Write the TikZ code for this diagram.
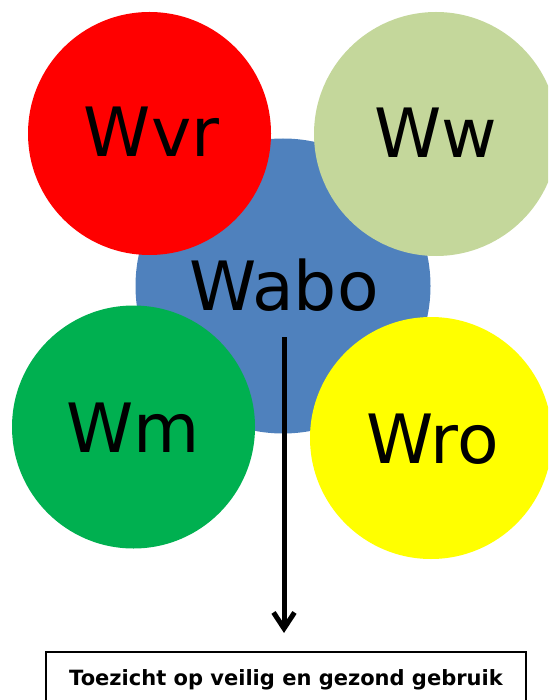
\documentclass[tikz,border=0pt]{standalone}
\usepackage{fontspec}
\setmainfont{DejaVu Sans}
\usetikzlibrary{arrows.meta}
\definecolor{cblue}{HTML}{4F81BD}
\definecolor{cred}{HTML}{FF0000}
\definecolor{colive}{HTML}{C4D79B}
\definecolor{cgreen}{HTML}{00B050}
\definecolor{cyellow}{HTML}{FFFF00}
\tikzset{
  lawlabel/.style={inner sep=0pt, font=\fontsize{68}{80}\selectfont, anchor=base},
  bigarrow/.style={line width=5pt, -{Straight Barb[length=16pt,width=21pt,line width=5pt]}},
  framebox/.style={draw, line width=1.5pt},
}
\begin{document}
\begin{tikzpicture}[x=1pt,y=-1pt]
\useasboundingbox (0,0) rectangle (548,700);
\clip (0,0) rectangle (548,700);
% circles
\fill[cblue] (283,286) circle[radius=147.5pt];
\fill[cred] (149.5,133.5) circle[radius=121.5pt];
\fill[colive] (436,134) circle[radius=122pt];
\fill[cgreen] (133.5,427) circle[radius=121.5pt];
\fill[cyellow] (431,438) circle[radius=121pt];
% labels
\node[lawlabel] (wabo) at (284,310) {Wabo};
\node[lawlabel] (wvr) at (151.5,157) {Wvr};
\node[lawlabel] (ww) at (435.5,158) {Ww};
\node[lawlabel] (wm) at (133,452) {Wm};
\node[lawlabel] (wro) at (432.5,463) {Wro};
% box
\draw[framebox] (46,652) rectangle (526,730);
\node[inner sep=0pt, anchor=base, font=\fontsize{21}{25}\selectfont\bfseries] (toez) at (286,685) {Toezicht op veilig en gezond gebruik};
% arrow
\coordinate (astart) at (284,337);
\coordinate (atip) at (284,633);
\draw[bigarrow] (astart) -- (atip);
\end{tikzpicture}
\end{document}
